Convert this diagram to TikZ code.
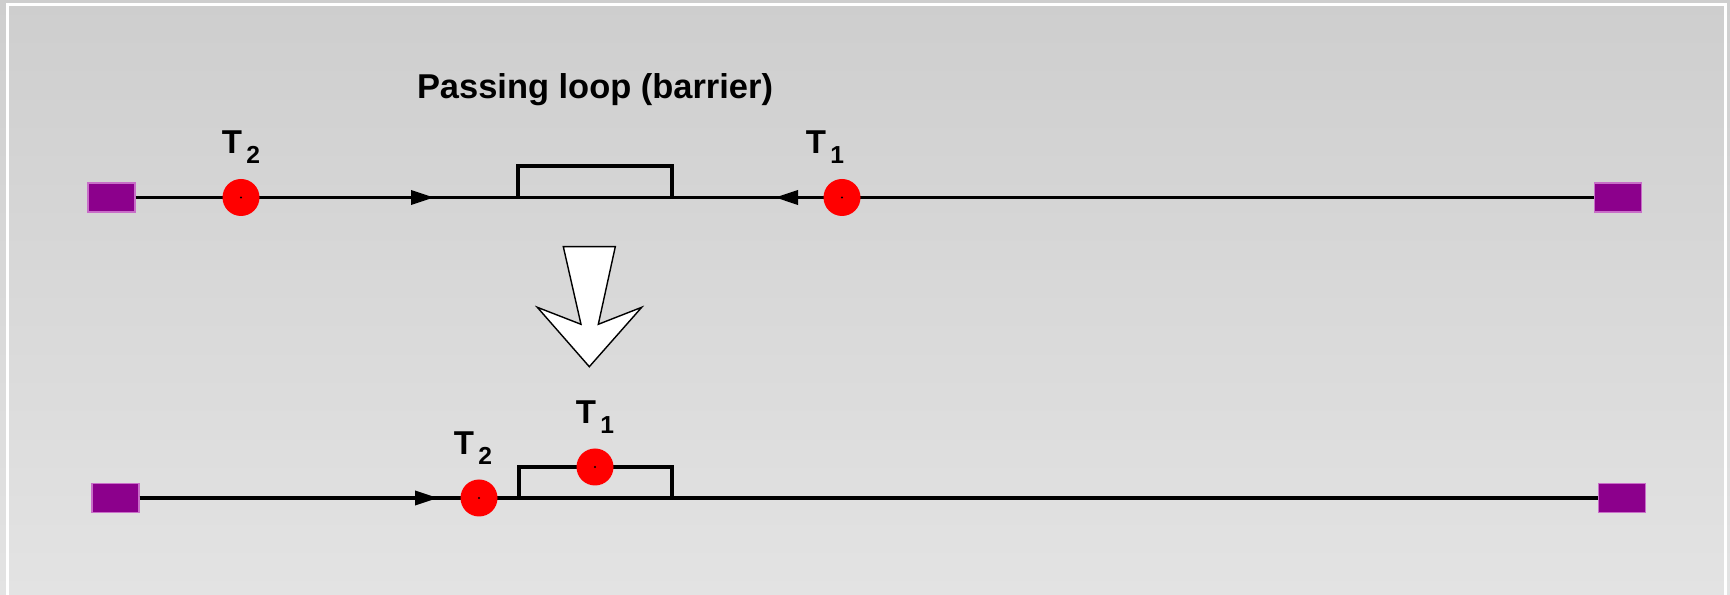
\documentclass[tikz,border=0pt]{standalone}
\usepackage{fontspec}
\setmainfont{Liberation Sans}
\usetikzlibrary{positioning,arrows.meta}

\definecolor{stopcol}{RGB}{140,0,140}
\definecolor{stopedge}{RGB}{200,110,200}
\definecolor{bgtop}{RGB}{206,206,206}
\definecolor{bgbottom}{RGB}{227,227,227}

\newcommand{\trainlbl}[1]{T\kern1.2pt\raisebox{-2.85pt}{\fontsize{7}{8}\selectfont #1}}

\tikzset{
  track/.style={line width=1pt},
  stop/.style={draw=stopedge, fill=stopcol, line width=0.3pt, minimum width=0.47cm, minimum height=0.29cm, inner sep=0pt},
  train/.style={circle, fill=red, minimum size=0.37cm, inner sep=0pt},
  tlabel/.style={inner sep=0pt, font=\fontsize{9.4}{10}\selectfont\bfseries},
  dir/.style={-{Triangle[length=2.3mm,width=1.4mm]}},
}

\begin{document}
\begin{tikzpicture}
  \useasboundingbox (0,0) rectangle (17.30,5.95);
  \shade[top color=bgtop, bottom color=bgbottom] (0,0) rectangle (17.30,5.95);
  \draw[white, line width=0.85pt] (0.075,0) -- (0.075,5.905) -- (17.25,5.905) -- (17.25,0);

  % before: both trains heading for the loop
  \node[font=\fontsize{9.8}{12}\selectfont\bfseries, anchor=base] (title) at (5.95,4.96) {Passing loop (barrier)};
  \node[stop] (sqTL) at (1.115,3.975) {};
  \node[stop] (sqTR) at (16.18,3.975) {};
  \coordinate (arrA) at (4.34,3.975);
  \coordinate (arrB) at (7.75,3.975);
  \coordinate (loopA) at (5.18,3.975);
  \coordinate (loopB) at (6.72,3.975);
  \draw[track] (sqTL) -- (sqTR);
  \draw[track] (loopA) -- ++(0,0.315) -| (loopB);
  \node[train] (t2a) at (2.41,3.975) {};
  \node[train] (t1a) at (8.42,3.975) {};
  \draw[track, dir] (t2a) -- (arrA);
  \draw[track, dir] (t1a) -- (arrB);
  \fill (t2a) circle (0.012);
  \fill (t1a) circle (0.012);
  \node[tlabel, above=0.14cm of t2a] (lbl2a) {\trainlbl{2}};
  \node[tlabel, above=0.14cm of t1a, xshift=-0.17cm] (lbl1a) {\trainlbl{1}};

  % big arrow
  \draw[fill=white, line width=0.4pt] (5.633,3.483) -- (6.153,3.483) -- (5.983,2.707) -- (6.417,2.877)
    -- (5.893,2.283) -- (5.373,2.877) -- (5.81,2.707) -- cycle;

  % after: T1 waits in the loop
  \node[stop] (sqBL) at (1.155,0.97) {};
  \node[stop] (sqBR) at (16.22,0.97) {};
  \coordinate (arrC) at (4.38,0.97);
  \coordinate (loopC) at (5.19,0.97);
  \coordinate (loopD) at (6.72,0.97);
  \draw[track] (sqBL) -- (sqBR);
  \draw[track] (loopC) -- ++(0,0.31) -| (loopD);
  \draw[track, dir] (sqBL) -- (arrC);
  \node[train] (t2b) at (4.79,0.97) {};
  \node[train] (t1b) at (5.95,1.28) {};
  \fill (t2b) circle (0.012);
  \fill (t1b) circle (0.012);
  \node[tlabel, above=0.14cm of t2b, xshift=-0.06cm] (lbl2b) {\trainlbl{2}};
  \node[tlabel, above=0.14cm of t1b] (lbl1b) {\trainlbl{1}};
\end{tikzpicture}
\end{document}
